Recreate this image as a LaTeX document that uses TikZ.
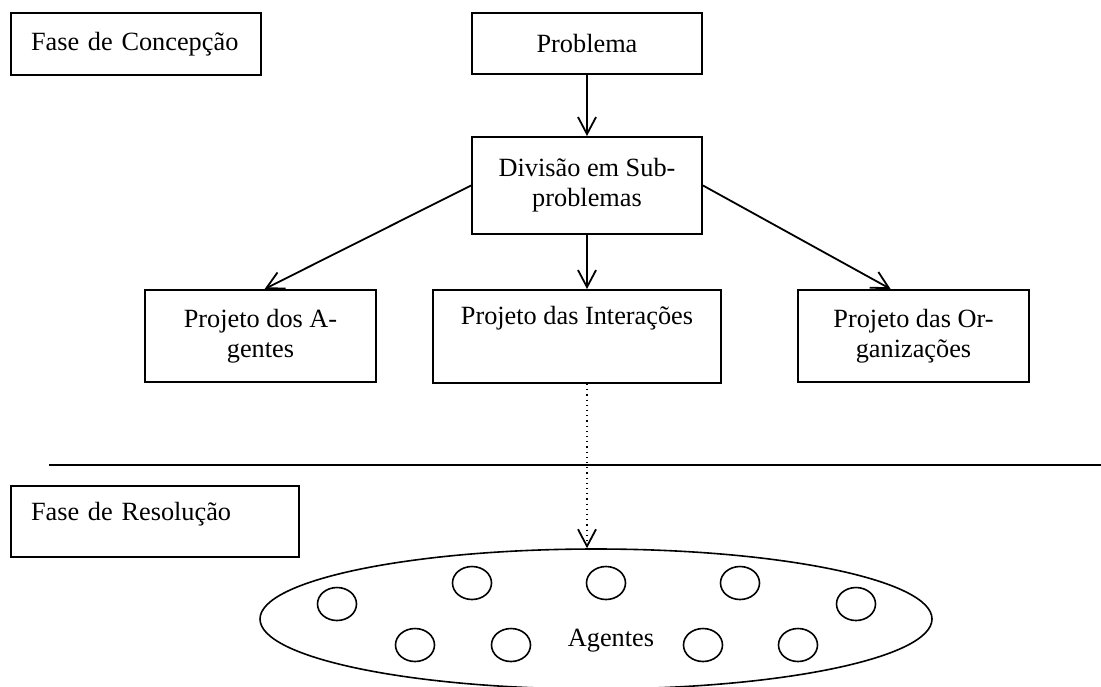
\documentclass[tikz,border=0pt]{standalone}
\usepackage{fontspec}
\setmainfont{Liberation Serif}
\usetikzlibrary{arrows.meta,shapes.geometric}

\tikzset{
  caixa/.style={draw, line width=1pt, inner sep=0pt, align=center, minimum width=115pt, minimum height=46pt},
  fase/.style={caixa, align=left, inner xsep=10pt},
  seta/.style={-{Straight Barb[length=8.5pt,width=9pt]}, line width=0.9pt},
  agente/.style={draw, ellipse, line width=0.8pt, inner sep=0pt, minimum width=19.5pt, minimum height=16.5pt}
}

\begin{document}
\begin{tikzpicture}[x=0.5pt, y=-0.5pt, font=\fontsize{13.15}{15}\selectfont]
        \useasboundingbox (0,0) rectangle (1101,686);
        \node [fase, text width=105pt, minimum width=125pt, minimum height=31pt] (fconc) at (136,44) {Fase de Concepção};
        \node [caixa, minimum height=30.5pt] (prob) at (587,43.5) {Problema};
        \node [caixa, minimum height=48.5pt] (divi) at (587,185.5) {Divisão em Sub-\\problemas};
        \node [caixa, minimum width=115.5pt] (pagen) at (260.5,336) {Projeto dos A-\\gentes};
        \node [caixa, minimum width=144pt, minimum height=46.5pt, text depth=21pt] (pint) at (577,336.5) {Projeto das Interações};
        \node [caixa, minimum width=115.5pt] (porg) at (913.5,336) {Projeto das Or-\\ganizações};
        \draw [line width=1pt] (49,465) -- (1101,465);
        \node [fase, text width=124pt, minimum width=144pt, minimum height=35.5pt, text depth=10pt] (fres) at (155,521.5) {Fase de Resolução};
        \node [draw, ellipse, line width=0.8pt, inner sep=0pt, minimum width=336pt, minimum height=70pt] (grupo) at (596,619) {};
        \node [anchor=base] (agtxt) at (611,646) {Agentes};
        \foreach \x/\y [count=\i] in {472/583, 606/583, 740/583, 337/604, 856/604, 415/645, 511/645, 703/645, 798/645}
          \node [agente] (ag\i) at (\x,\y) {};
        \draw [seta] (prob) -- (divi);
        \draw [seta] (divi.west) -- (pagen.85);
        \draw [seta] (divi.south) -- (divi.south |- pint.north);
        \draw [seta] (divi.east) -- (porg.116);
        \draw [dotted, line width=0.6pt] (pint.south -| divi.south) -- (grupo.north -| divi.south);
        \draw [seta] (grupo.north -| divi.south) ++(0,-3) -- (grupo.north -| divi.south);
\end{tikzpicture}
\end{document}
